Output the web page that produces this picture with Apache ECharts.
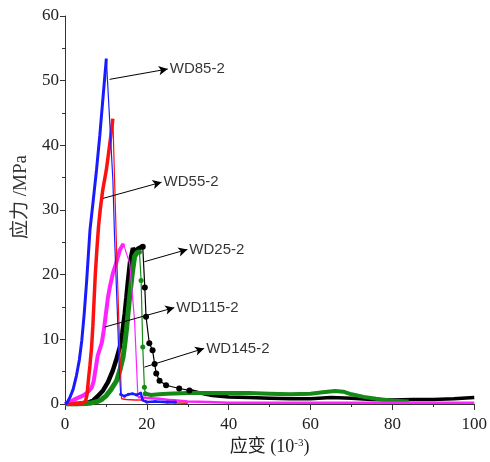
<!DOCTYPE html>
<html><head><meta charset="utf-8">
<script src="https://cdn.jsdelivr.net/npm/echarts@6/dist/echarts.min.js"></script>
<style>html,body{margin:0;padding:0;background:#fff}#c{width:490px;height:462px}</style>
</head><body><div id="c"></div>
<script>
// ---- data (strain 10^-3, stress MPa) ----
var xTicks = [0, 20, 40, 60, 80, 100];
var yTicks = [0, 10, 20, 30, 40, 50, 60];

var wd85Rise = [[0,0],[0.5,0.2],[1.2,1],[2,2.3],[2.8,4.4],[3.5,6.8],[4.1,9.8],[4.7,14],[5.3,19.1],[6.1,26.9],[6.9,31.5],[7.7,36.2],[8.5,41.5],[9.3,47.5],[10.1,53.4]];
var wd85Fall = [[10.1,53.4],[11.7,34.6],[12.1,26],[12.8,14],[13.3,5],[13.6,1.5]];
var wd85Tail = [[13.6,1.5],[14.5,1.2],[15.5,1.5],[16.5,1.6],[17.5,1.4],[18.5,1.7],[19,0.6],[20,0.3],[22,0.4],[25,0.3],[27,0.3]];

var wd55Rise = [[0,0],[2,0],[4,0.1],[5,0.4],[5.4,1.5],[5.7,3.6],[6.1,6],[6.5,8.8],[6.8,12],[7.1,16],[7.4,20],[7.8,24],[8.2,27.5],[8.6,30],[9.2,33],[10.1,36.2],[10.8,39.5],[11.4,42.5],[11.7,44.1]];
var wd55Fall = [[11.7,44.1],[12.1,35],[12.6,24],[13.3,10],[13.8,0.8]];
var wd55Tail = [[13.8,0.8],[15,0.7],[17,0.6],[19,0.6],[20,0.4],[22,0.3],[25,0.2],[30,0.1]];

var wd115Rise = [[0,0],[1,0.2],[2,0.6],[3,0.9],[4.4,1.3],[5.5,1.8],[6.5,2.5],[7,3.5],[7.5,5.5],[8,7.5],[8.5,8.5],[9,9.5],[9.5,11.5],[10,14],[10.5,16.5],[11,18.2],[11.7,20.2],[12.5,21.8],[13.4,23.8],[14.3,24.8]];
var wd115Fall = [[14.3,24.8],[15,23.3],[15.8,21.8],[17.0,12.9],[17.6,4.2],[17.8,1.1]];
var wd115Tail = [[17.8,1.1],[19,1],[21,0.9],[23,0.8],[26,0.6],[30,0.4],[35,0.3],[40,0.2],[50,0.2],[60,0.2],[70,0.2],[80,0.2],[90,0.2],[100,0.2]];

var wd25Rise = [[0,0],[3,0],[5,0.1],[6,0.3],[6.9,0.55],[8,1.2],[9.3,2.1],[10.5,3.4],[11.7,5.2],[12.6,7],[13.4,8.8],[14,11],[14.6,14],[15,16.5],[15.4,19.1],[15.9,22],[16.6,24.1],[17.2,23.4],[17.8,24],[18.4,24.2],[19.0,24.3]];
var wd25Fall = [[19.0,24.3],[19.5,18],[19.8,13.5],[20.6,9.4],[21.4,8.3],[21.9,6.2],[22.3,4.7],[23.1,3.6],[24.7,2.9],[27.9,2.4],[30.4,2.1]];
var wd25Tail = [[30.4,2.1],[33,1.7],[36,1.3],[40,1.1],[45,1.0],[50,0.9],[55,0.8],[60,0.8],[65,1.0],[70,0.9],[75,0.7],[80,0.6],[85,0.7],[90,0.7],[95,0.8],[100,1.0]];

var wd145Rise = [[0,0],[3,0],[6,0.1],[8,0.4],[9,0.7],[10.1,1.3],[11.3,2.3],[12.6,3.6],[13.4,5.2],[14.2,7.3],[14.6,9.2],[15.0,11.4],[15.4,14],[15.8,16.6],[16.4,20],[17.0,22.8],[17.6,23.4],[18.2,23.5]];
var wd145Fall = [[18.2,23.5],[18.6,19.1],[19.0,8.8],[19.4,2.6],[19.6,1.6]];
var wd145Tail = [[19.6,1.6],[21,1.4],[23,1.5],[25,1.6],[30,1.7],[35,1.7],[40,1.7],[45,1.7],[50,1.6],[55,1.5],[60,1.6],[63,1.8],[66,2.0],[68,1.9],[70,1.5],[73,1.1],[76,0.8],[80,0.5],[84,0.4]];

// annotations: label, arrow start (on curve), arrow end (at label)
var annotLabels = ['WD85-2', 'WD55-2', 'WD25-2', 'WD115-2', 'WD145-2'];
var annotStart = [[10.9,50.2],[9.3,31.8],[19.4,22.0],[9.7,11.9],[19.4,5.7]];
var annotEnd = [[25.1,51.8],[23.6,34.3],[29.9,23.9],[26.7,14.9],[34.0,8.6]];

var serif = '"Liberation Serif","Times New Roman","Noto Sans CJK SC",serif';
var sans = '"Liberation Sans",Arial,sans-serif';

function seg(data, color, width, sym, symSize) {
  return {
    type: 'line', data: data, smooth: false, silent: true,
    symbol: sym || 'none', symbolSize: symSize || 0, showSymbol: !!sym,
    itemStyle: { color: color },
    lineStyle: { color: color, width: width }
  };
}
var BLUE = '#1a1aff', RED = '#ff1010', MAG = '#ff22ff', BLK = '#000000', GRN = '#138a13';

var series = [
  seg(wd25Rise, BLK, 4.5), seg(wd25Fall, BLK, 1.2, 'circle', 6), seg(wd25Tail, BLK, 3.5),
  seg(wd145Rise, GRN, 5), seg(wd145Fall, GRN, 1.2, 'circle', 5), seg(wd145Tail, GRN, 4),
  seg(wd115Rise, MAG, 4), seg(wd115Fall, MAG, 1.2), seg(wd115Tail, MAG, 2.5),
  seg(wd55Rise, RED, 3.5), seg(wd55Fall, RED, 1.2), seg(wd55Tail, RED, 1.5),
  seg(wd85Rise, BLUE, 3), seg(wd85Fall, BLUE, 1.2), seg(wd85Tail, BLUE, 2.5, 'circle', 3)
];

series.push({
  type: 'scatter', silent: true, symbolSize: 0,
  data: annotEnd.map(function (p, i) { return { name: annotLabels[i], value: p }; }),
  label: { show: true, position: 'right', distance: 2, formatter: '{b}',
    color: '#000', fontFamily: sans, fontSize: 15 },
  markLine: {
    silent: true, symbol: ['none', 'arrow'], symbolSize: [7, 9],
    lineStyle: { color: '#000', width: 1, type: 'solid' },
    label: { show: false },
    data: annotStart.map(function (s, i) { return [{ coord: s }, { coord: annotEnd[i] }]; })
  }
});

var chart = echarts.init(document.getElementById('c'));
chart.setOption({
  animation: false,
  backgroundColor: '#fff',
  grid: { left: 65, right: 13, top: 16, bottom: 58 },
  xAxis: {
    type: 'value', min: xTicks[0], max: xTicks[xTicks.length - 1], interval: 20,
    name: '应变 (10{sup|-3})', nameLocation: 'middle', nameGap: 30,
    nameTextStyle: { fontFamily: serif, fontSize: 18, color: '#222',
      rich: { sup: { fontFamily: serif, fontSize: 11, color: '#222', verticalAlign: 'top', padding: [0, 0, 8, 0] } } },
    axisLine: { lineStyle: { color: '#333', width: 1 } },
    axisTick: { inside: false, length: 6, lineStyle: { color: '#333' } },
    minorTick: { show: true, splitNumber: 2, length: 3, lineStyle: { color: '#333' } },
    splitLine: { show: false },
    axisLabel: { fontFamily: serif, fontSize: 17, color: '#222', margin: 12 }
  },
  yAxis: {
    type: 'value', min: yTicks[0], max: yTicks[yTicks.length - 1], interval: 10,
    name: '应力 /MPa', nameLocation: 'middle', nameGap: 34,
    nameTextStyle: { fontFamily: serif, fontSize: 19, color: '#333', padding: [0, 0, 0, 26] },
    axisLine: { show: true, lineStyle: { color: '#333', width: 1 } },
    axisTick: { show: true, inside: false, length: 5, lineStyle: { color: '#333' } },
    minorTick: { show: true, splitNumber: 2, length: 3, lineStyle: { color: '#333' } },
    splitLine: { show: false },
    axisLabel: { fontFamily: serif, fontSize: 17, color: '#222', margin: 6 }
  },
  series: series
});
</script></body></html>
